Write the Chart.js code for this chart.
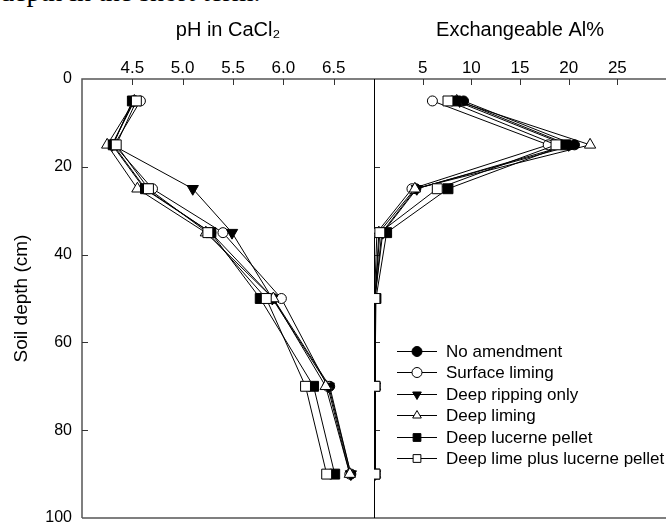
<!DOCTYPE html>
<html>
<head>
<meta charset="utf-8">
<script src="https://cdn.jsdelivr.net/npm/chart.js@4.4.1/dist/chart.umd.min.js"></script>
<style>
  body { margin: 0; background: #fff; }
  #wrap { position: relative; width: 666px; height: 525px; overflow: hidden; background: #fff; }
  #clipText { position: absolute; left: 0; top: -22px; font: 28px/28px "Liberation Serif", serif; color: #000; white-space: nowrap; }
  canvas { position: absolute; left: 0; top: 0; }
</style>
</head>
<body>
<div id="wrap">
  <div id="clipText">depth in the short term.</div>
  <canvas id="soilChart" width="666" height="525"></canvas>
</div>
<script>
//Sampling depths (cm) and treatments
const depths = [5, 15, 25, 35, 50, 70, 90];
const treatments = ["No amendment", "Surface liming", "Deep ripping only", "Deep liming", "Deep lucerne pellet", "Deep lime plus lucerne pellet"];

//pH in CaCl2 per treatment
const noAmendPH = [4.52, 4.30, 4.62, 5.28, 5.90, 6.46, 6.67];
const surfaceLimePH = [4.58, 4.32, 4.70, 5.40, 5.98, 6.44, 6.66];
const deepRipPH = [4.51, 4.30, 5.10, 5.49, 5.89, 6.45, 6.67];
const deepLimePH = [4.52, 4.25, 4.55, 5.23, 5.90, 6.42, 6.66];
const lucernePH = [4.50, 4.31, 4.63, 5.28, 5.77, 6.30, 6.51];
const limeLucernePH = [4.54, 4.34, 4.66, 5.25, 5.83, 6.22, 6.43];

//Exchangeable Al% per treatment
const noAmendAl = [9.2, 20.6, 4.3, 0.8, 0.1, 0.1, 0.1];
const surfaceLimeAl = [6.0, 17.9, 3.9, 0.3, 0.05, 0.05, 0.05];
const deepRipAl = [8.8, 20.0, 4.4, 0.9, 0.1, 0.1, 0.1];
const deepLimeAl = [8.5, 22.2, 4.2, 0.5, 0.1, 0.1, 0.1];
const lucerneAl = [8.4, 19.7, 7.6, 1.3, 0.2, 0.1, 0.1];
const limeLucerneAl = [7.6, 18.7, 6.5, 0.6, 0.1, 0.1, 0.1];

//Tick labels
const phTicks = [4.5, 5.0, 5.5, 6.0, 6.5];
const alTicks = [5, 10, 15, 20, 25];
const depthTicks = [0, 20, 40, 60, 80, 100];

const phSeries = [noAmendPH, surfaceLimePH, deepRipPH, deepLimePH, lucernePH, limeLucernePH];
const alSeries = [noAmendAl, surfaceLimeAl, deepRipAl, deepLimeAl, lucerneAl, limeLucerneAl];

//Marker look per treatment
const markers = [
    {style: "circle", rotation: 0, fill: "#000", radius: 5},
    {style: "circle", rotation: 0, fill: "#fff", radius: 5},
    {style: "triangle", rotation: 180, fill: "#000", radius: 6.5},
    {style: "triangle", rotation: 0, fill: "#fff", radius: 6.5},
    {style: "rect", rotation: 0, fill: "#000", radius: 7},
    {style: "rect", rotation: 0, fill: "#fff", radius: 7}
];

const FONT = '"Liberation Sans", Arial, sans-serif';
Chart.defaults.font.family = FONT;
Chart.defaults.color = "#000";

function makeSeries(values, axisId, i) {
    const m = markers[i];
    return {
        label: treatments[i],
        data: values.map((v, k) => ({x: v, y: depths[k]})),
        xAxisID: axisId,
        yAxisID: "y",
        order: treatments.length - i, //later treatments drawn on top
        showLine: true,
        borderColor: "#000",
        borderWidth: 1,
        pointStyle: m.style,
        pointRotation: m.rotation,
        pointRadius: m.radius,
        pointHoverRadius: m.radius,
        pointBackgroundColor: m.fill,
        pointBorderColor: "#000",
        pointBorderWidth: 1
    };
}

const datasets = [];
phSeries.forEach((vals, i) => datasets.push(makeSeries(vals, "xPH", i)));
alSeries.forEach((vals, i) => datasets.push(makeSeries(vals, "xAl", i)));

//No label overhang padding, so the plot box keeps its size
function noPad(s) {
    s.paddingTop = 0;
    s.paddingBottom = 0;
    s.paddingLeft = 0;
    s.paddingRight = 0;
}

//Frame, inward ticks and line+marker legend
const framePlugin = {
    id: "frame",
    beforeDatasetsDraw(chart) {
        const ctx = chart.ctx;
        const a = chart.chartArea;
        const xPH = chart.scales.xPH, xAl = chart.scales.xAl, y = chart.scales.y;
        ctx.save();
        ctx.strokeStyle = "#555";
        ctx.lineWidth = 1.5;
        ctx.beginPath();
        ctx.moveTo(a.left, a.bottom);
        ctx.lineTo(a.left, a.top);
        ctx.lineTo(a.right, a.top);
        ctx.moveTo(a.left, a.bottom);
        ctx.lineTo(a.right, a.bottom);
        ctx.stroke();

        //inward ticks
        ctx.lineWidth = 1;
        ctx.strokeStyle = "#333";
        ctx.beginPath();
        [xPH, xAl].forEach(s => {
            s.ticks.forEach(t => {
                const px = Math.round(s.getPixelForValue(t.value)) + 0.5;
                ctx.moveTo(px, a.top);
                ctx.lineTo(px, a.top + 6);
            });
        });
        y.ticks.forEach(t => {
            if (t.value <= y.min || t.value >= y.max) return;
            const py = Math.round(y.getPixelForValue(t.value)) + 0.5;
            ctx.moveTo(a.left, py);
            ctx.lineTo(a.left + 6, py);
            ctx.moveTo(xAl.left, py);
            ctx.lineTo(xAl.left + 6, py);
        });
        ctx.stroke();

        //divider between panels
        ctx.strokeStyle = "#000";
        ctx.lineWidth = 1;
        ctx.beginPath();
        const mx = Math.round(xAl.left) + 0.5;
        ctx.moveTo(mx, a.top);
        ctx.lineTo(mx, a.bottom);
        ctx.stroke();
        ctx.restore();
    },
    afterDraw(chart) {
        const ctx = chart.ctx;
        const xAl = chart.scales.xAl;
        const y = chart.scales.y;
        const x0 = xAl.left + 23;
        const top = y.getPixelForValue(61.9);
        const rowH = 21.5;
        ctx.save();
        ctx.font = "17px " + FONT;
        ctx.textBaseline = "middle";
        treatments.forEach((name, i) => {
            const ry = Math.round(top + i * rowH) + 0.5;
            const m = markers[i];
            ctx.strokeStyle = "#000";
            ctx.lineWidth = 1;
            ctx.beginPath();
            ctx.moveTo(x0, ry);
            ctx.lineTo(x0 + 40, ry);
            ctx.stroke();
            ctx.fillStyle = m.fill;
            Chart.helpers.drawPoint(ctx, {
                pointStyle: m.style,
                rotation: m.rotation,
                radius: m.style === "rect" ? 5.5 : 5,
                borderWidth: 1
            }, x0 + 20, ry);
            ctx.fillStyle = "#000";
            ctx.fillText(name, x0 + 49, ry + 1);
        });
        ctx.restore();
    }
};

new Chart(document.getElementById("soilChart").getContext("2d"), {
    type: "scatter",
    data: {datasets: datasets},
    options: {
        responsive: false,
        animation: false,
        layout: {autoPadding: false, padding: {left: 0, right: 0, top: 0, bottom: 7}},
        plugins: {legend: {display: false}, tooltip: {enabled: false}},
        scales: {
            //top axes are laid out right-to-left, so the Al panel is listed first
            xAl: {
                type: "linear",
                position: "top",
                stack: "panels",
                stackWeight: 1,
                min: 0,
                max: 30,
                afterBuildTicks: s => { s.ticks = alTicks.map(v => ({value: v})); },
                afterFit: s => { s.height = 79; noPad(s); },
                ticks: {padding: 0, font: {size: 17}, maxRotation: 0, autoSkip: false},
                grid: {display: false, drawTicks: false},
                border: {display: false},
                title: {display: true, text: "Exchangeable Al%", font: {size: 20}, padding: {top: 18, bottom: 0}}
            },
            xPH: {
                type: "linear",
                position: "top",
                stack: "panels",
                stackWeight: 1,
                min: 4.0,
                max: 6.9,
                afterBuildTicks: s => { s.ticks = phTicks.map(v => ({value: v})); },
                afterFit: s => { s.height = 79; noPad(s); },
                ticks: {callback: v => v.toFixed(1), padding: 0, font: {size: 17}, maxRotation: 0, autoSkip: false},
                grid: {display: false, drawTicks: false},
                border: {display: false},
                title: {display: true, text: "pH in CaCl₂", font: {size: 20}, padding: {top: 18, bottom: 0}}
            },
            y: {
                type: "linear",
                position: "left",
                reverse: true,
                min: 0,
                max: 100,
                afterBuildTicks: s => { s.ticks = depthTicks.map(v => ({value: v})); },
                afterFit: s => { s.width = 82; noPad(s); },
                ticks: {padding: 10, font: {size: 16}},
                grid: {display: false, drawTicks: false},
                border: {display: false},
                title: {display: true, text: "Soil depth (cm)", font: {size: 19}, padding: {top: 10, bottom: 0}}
            }
        }
    },
    plugins: [framePlugin]
});
</script>
</body>
</html>
